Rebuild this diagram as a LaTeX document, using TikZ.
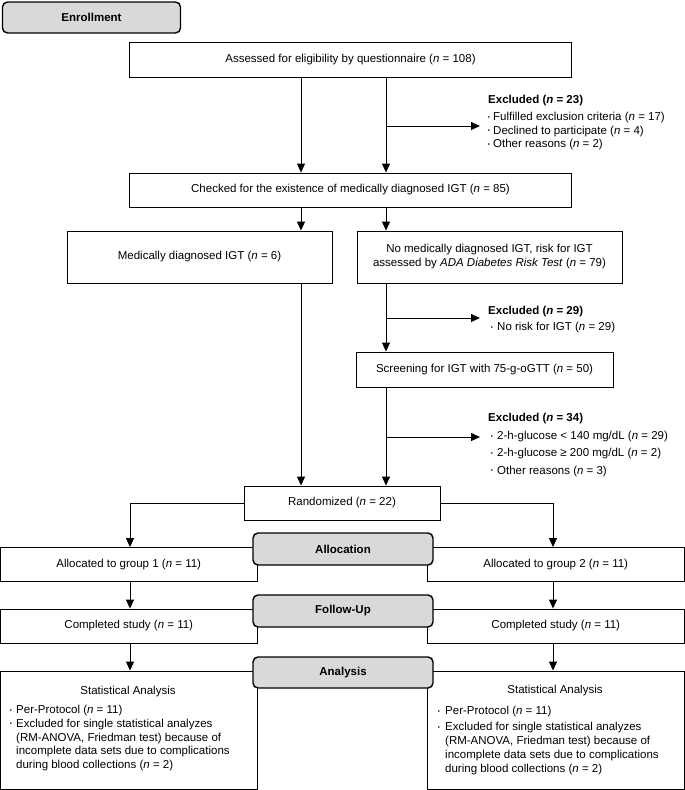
\documentclass[tikz,border=0pt]{standalone}
\usepackage{fontspec}
\setmainfont{Liberation Sans}
\usetikzlibrary{arrows.meta}
\definecolor{phasegray}{RGB}{217,217,217}
\begin{document}
\begin{tikzpicture}[x=1pt,y=-1pt,
  font=\fontsize{11.5}{14}\selectfont,
  box/.style={draw=black, line width=0.9pt, fill=white, inner sep=0pt, align=center},
  phase/.style={draw=black, line width=1.4pt, fill=phasegray, rounded corners=5pt, inner sep=0pt,
    minimum width=180pt, font=\fontsize{11.5}{14}\selectfont\bfseries},
  arr/.style={line width=0.9pt, -{Triangle[length=9pt,width=8pt]}},
  ln/.style={line width=0.9pt},
  txt/.style={inner sep=0pt, anchor=west},
  bul/.style={inner sep=0pt, font=\fontsize{6}{6}\selectfont}
]
\useasboundingbox (0,0) rectangle (685,790);
\fill[white] (0,0) rectangle (685,790);

% columns
\coordinate (xa) at (301,0);
\coordinate (xb) at (386,0);
\coordinate (xl) at (130,0);
\coordinate (xr) at (553,0);

% phase label
\node[phase, minimum width=178pt, minimum height=31pt] (enroll) at (91.5,17.5) {Enrollment};

% boxes
\node[box, minimum width=442pt, minimum height=35pt] (assess) at (350.5,59.5)
  {Assessed for eligibility by questionnaire (\textit{n} = 108)};
\node[box, minimum width=442pt, minimum height=34pt] (check) at (350.5,190)
  {Checked for the existence of medically diagnosed IGT (\textit{n} = 85)};
\node[box, minimum width=265pt, minimum height=52pt] (med) at (199.5,257)
  {Medically diagnosed IGT (\textit{n} = 6)};
\node[box, minimum width=265pt, minimum height=52pt] (nomed) at (489.5,257)
  {No medically diagnosed IGT, risk for IGT\\assessed by \textit{ADA Diabetes Risk Test} (\textit{n} = 79)};
\node[box, minimum width=257pt, minimum height=35pt] (screen) at (484.5,369.5)
  {Screening for IGT with 75-g-oGTT (\textit{n} = 50)};
\node[box, minimum width=196pt, minimum height=34pt] (rand) at (342,503)
  {Randomized (\textit{n} = 22)};

\node[box, minimum width=256.5pt, minimum height=34pt] (alloc1) at (128.75,564.5)
  {Allocated to group 1 (\textit{n} = 11)};
\node[box, minimum width=257.5pt, minimum height=34pt] (alloc2) at (555.75,564.5)
  {Allocated to group 2 (\textit{n} = 11)};
\node[box, minimum width=256.5pt, minimum height=34pt] (comp1) at (128.75,626)
  {Completed study (\textit{n} = 11)};
\node[box, minimum width=257.5pt, minimum height=34pt] (comp2) at (555.75,626)
  {Completed study (\textit{n} = 11)};
\node[box, minimum width=256.5pt, minimum height=118pt] (stat1) at (128.75,730)
  {};
\node[box, minimum width=257.5pt, minimum height=118pt] (stat2) at (555.75,730)
  {};

% phase labels in the middle
\node[phase, minimum height=32pt] (allocation) at (343,549) {Allocation};
\node[phase, minimum height=32pt] (follow) at (343,611) {Follow-Up};
\node[phase, minimum height=31pt] (analysis) at (343,672.5) {Analysis};

% excluded 23
\node[txt, font=\fontsize{11.5}{14}\selectfont\bfseries] (ex1) at (488,101) {Excluded (\textit{n} = 23)};
\node[bul] (b11) at (489,118) {\textbullet};
\node[txt] (t11) at (493,118) {Fulfilled exclusion criteria (\textit{n} = 17)};
\node[bul] (b12) at (489,131.5) {\textbullet};
\node[txt] (t12) at (493,131.5) {Declined to participate (\textit{n} = 4)};
\node[bul] (b13) at (489,145) {\textbullet};
\node[txt] (t13) at (493,145) {Other reasons (\textit{n} = 2)};
\coordinate (e1) at (480,126);

% excluded 29
\node[txt, font=\fontsize{11.5}{14}\selectfont\bfseries] (ex2) at (488,312) {Excluded (\textit{n} = 29)};
\node[bul] (b21) at (492,328) {\textbullet};
\node[txt] (t21) at (497,328) {No risk for IGT (\textit{n} = 29)};
\coordinate (e2) at (480,318);

% excluded 34
\node[txt, font=\fontsize{11.5}{14}\selectfont\bfseries] (ex3) at (488,419) {Excluded (\textit{n} = 34)};
\node[bul] (b31) at (492,437) {\textbullet};
\node[txt] (t31) at (497,437) {2-h-glucose < 140 mg/dL (\textit{n} = 29)};
\node[bul] (b32) at (492,454) {\textbullet};
\node[txt] (t32) at (497,454) {2-h-glucose ≥ 200 mg/dL (\textit{n} = 2)};
\node[bul] (b33) at (492,471.5) {\textbullet};
\node[txt] (t33) at (497,471.5) {Other reasons (\textit{n} = 3)};
\coordinate (e3) at (480,437);

% statistical analysis texts, left
\node[inner sep=0pt] (s1t) at (128,692) {Statistical Analysis};
\node[bul] (s1b1) at (11,711) {\textbullet};
\node[txt] (s1l1) at (16,711) {Per-Protocol (\textit{n} = 11)};
\node[bul] (s1b2) at (11,724.5) {\textbullet};
\node[inner sep=0pt, anchor=north west, align=left, font=\fontsize{11.5}{13.5}\selectfont] (s1l2) at (16,719)
  {Excluded for single statistical analyzes\\(RM-ANOVA, Friedman test) because of\\incomplete data sets due to complications\\during blood collections (\textit{n} = 2)};

% statistical analysis texts, right
\node[inner sep=0pt] (s2t) at (555,691) {Statistical Analysis};
\node[bul] (s2b1) at (439,712) {\textbullet};
\node[txt] (s2l1) at (445,712) {Per-Protocol (\textit{n} = 11)};
\node[bul] (s2b2) at (439,728) {\textbullet};
\node[inner sep=0pt, anchor=north west, align=left, font=\fontsize{11.5}{14}\selectfont] (s2l2) at (445,722)
  {Excluded for single statistical analyzes\\(RM-ANOVA, Friedman test) because of\\incomplete data sets due to complications\\during blood collections (\textit{n} = 2)};

% connectors
\draw[arr] (assess.south -| xa) -- (check.north -| xa);
\draw[arr] (assess.south -| xb) -- (check.north -| xb);
\draw[arr] (e1 -| xb) -- (e1);
\draw[arr] (check.south -| xa) -- (med.north -| xa);
\draw[arr] (check.south -| xb) -- (nomed.north -| xb);
\draw[arr] (med.south -| xa) -- (rand.north -| xa);
\draw[arr] (nomed.south -| xb) -- (screen.north -| xb);
\draw[arr] (e2 -| xb) -- (e2);
\draw[arr] (screen.south -| xb) -- (rand.north -| xb);
\draw[arr] (e3 -| xb) -- (e3);
\draw[arr] (rand.west) -| (alloc1.north -| xl);
\draw[arr] (rand.east) -| (alloc2.north -| xr);
\draw[arr] (alloc1.south -| xl) -- (comp1.north -| xl);
\draw[arr] (alloc2.south -| xr) -- (comp2.north -| xr);
\draw[arr] (comp1.south -| xl) -- (stat1.north -| xl);
\draw[arr] (comp2.south -| xr) -- (stat2.north -| xr);
\end{tikzpicture}
\end{document}
